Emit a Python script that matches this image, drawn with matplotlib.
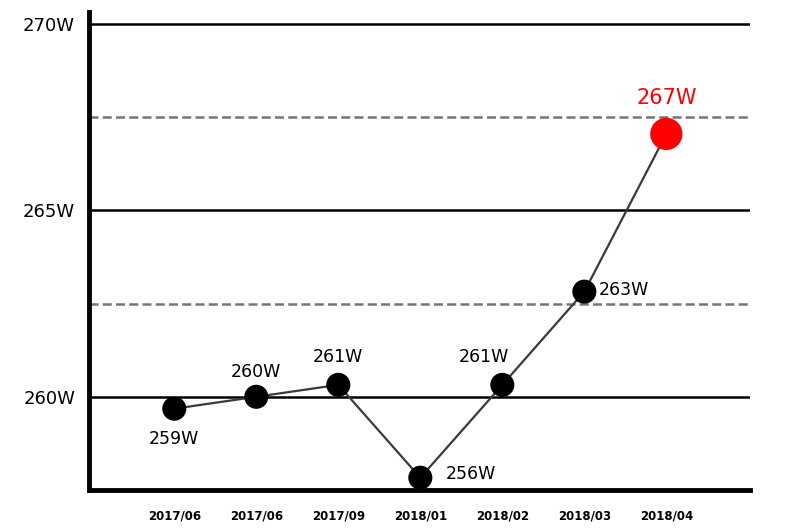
import matplotlib
matplotlib.use("Agg")
import matplotlib.pyplot as plt

categories = ["2017/06", "2017/06", "2017/09", "2018/01", "2018/02", "2018/03", "2018/04"]
values = [259.68, 260.0, 260.32, 257.83, 260.32, 262.82, 267.05]
point_labels = ["259W", "260W", "261W", "256W", "261W", "263W", "267W"]
y_ticks = [260, 265, 270]
y_tick_labels = ["260W", "265W", "270W"]
dashed_levels = [262.5, 267.5]

# label offsets in pixels (dx, dy, ha)
offsets = [(0, -30, "center"), (0, 25, "center"), (0, 28, "center"),
           (25, 4, "left"), (-18, 28, "center"), (14, 2, "left"), (0, 36, "center")]

fig = plt.figure(figsize=(8, 5.3), dpi=100)
ax = fig.add_axes([89/800, 40/530, (750-89)/800, (518-40)/530])

x = list(range(len(categories)))
for yv in y_ticks:
    ax.axhline(yv, color="black", lw=1.8, zorder=1)
for yv in dashed_levels:
    ax.axhline(yv, color="#77776e", lw=1.8, ls=(0, (3.6, 1.7)), zorder=1)

ax.plot(x, values, color="#3a3a3a", lw=1.6, zorder=2)
ax.scatter(x[:-1], values[:-1], s=300, color="black", zorder=3, edgecolors="none")
ax.scatter(x[-1:], values[-1:], s=540, color="red", zorder=3, edgecolors="none")

for i, (v, lab) in enumerate(zip(values, point_labels)):
    dx, dy, ha = offsets[i]
    last = i == len(values) - 1
    ax.annotate(lab, (x[i], v), xytext=(dx, dy), textcoords="offset pixels",
                ha=ha, va="center", fontsize=15 if last else 12.5,
                color="red" if last else "black")

ax.set_xlim(-1.04, 7.02)
ax.set_ylim(257.5, 270.32)
ax.set_xticks(x)
ax.set_xticklabels(categories, fontsize=8.5, fontweight="bold")
ax.set_yticks(y_ticks)
ax.set_yticklabels(y_tick_labels, fontsize=13)
ax.tick_params(axis="both", length=0)
ax.tick_params(axis="x", pad=14)
ax.tick_params(axis="y", pad=10)

for s in ["top", "right"]:
    ax.spines[s].set_visible(False)
ax.spines["left"].set_linewidth(3.5)
ax.spines["bottom"].set_linewidth(3.5)

fig.savefig("out.png", dpi=100)
